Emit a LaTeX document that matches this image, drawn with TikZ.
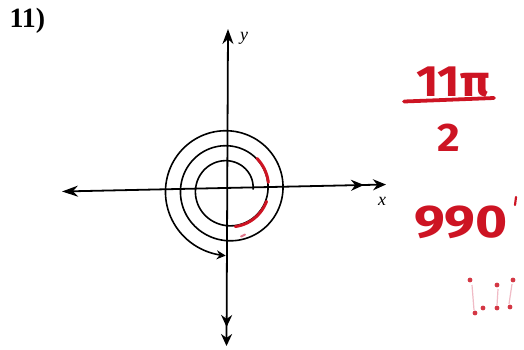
\documentclass[tikz,border=0pt]{standalone}
\usepackage{fontspec}
\setmainfont{Liberation Serif}
\newfontfamily\handfont{Fira Sans}
\usetikzlibrary{arrows.meta}
\definecolor{inkred}{RGB}{205,20,35}
\definecolor{pinkred}{RGB}{225,120,140}
\tikzset{
  axisline/.style={line width=1.8pt,black},
  spiralline/.style={line width=1.6pt,black},
  redmark/.style={line width=3pt,inkred,line cap=round},
  handtext/.style={inkred,font=\handfont\bfseries\fontsize{44}{44}\selectfont},
}
\begin{document}
\begin{tikzpicture}[x=1bp,y=-1bp]
\useasboundingbox (0,0) rectangle (524,349);
\fill[white] (0,0) rectangle (524,349);
% problem number
\node[anchor=west,font=\fontsize{28}{28}\selectfont\bfseries] (num) at (6,21) {11)};
% axes
\coordinate (xl) at (62,191.5);
\coordinate (xr) at (386,184.5);
\coordinate (yt) at (228,29);
\coordinate (yb) at (226.5,346);
\draw[axisline,{Stealth[length=16bp,width=11bp]}-{Stealth[length=13bp,width=11bp,sep=9bp]Stealth[length=13bp,width=11bp]}] (xl) -- (xr);
\draw[axisline,{Stealth[length=15bp,width=11bp]}-{Stealth[length=12bp,width=11bp,sep=7bp]Stealth[length=12bp,width=11bp]}] (yt) -- (yb);
\node[font=\itshape\fontsize{18}{18}\selectfont] (ylab) at (244,38) {y};
\node[font=\itshape\fontsize{18}{18}\selectfont] (xlab) at (382,201) {x};
% spiral (990 degrees)
\draw[spiralline,-{Stealth[length=9bp,width=9bp]}] plot[domain=0:988,samples=300,smooth]
  ({228+(25+15*\x/360)*cos(\x)},{189.5-(25+15*\x/360)*sin(\x)});
% red tracing
\draw[redmark] plot[domain=281:343,samples=40,smooth]
  ({228+(25+15*\x/360+1)*cos(\x)},{189.5-(25+15*\x/360+1)*sin(\x)});
\draw[redmark] plot[domain=370:407,samples=30,smooth]
  ({228+(25+15*\x/360+0.5)*cos(\x)},{189.5-(25+15*\x/360+0.5)*sin(\x)});
\draw[pinkred,line width=2pt,line cap=round] (241,236.5) -- (245,234.5);
% red answer
\node[handtext,anchor=base,xscale=1.1] (num11) at (453,96) {11π};
\draw[inkred,line width=3.8pt,line cap=round] (404,101.5) -- (494,98);
\node[handtext,anchor=base,font=\handfont\bfseries\fontsize{40}{40}\selectfont,xscale=1.1] (den) at (449,151) {2};
\node[handtext,anchor=base,font=\handfont\bfseries\fontsize{46}{46}\selectfont,xscale=1.2] (deg) at (461,237) {990};
\draw[inkred,line width=2.2pt,line cap=round] (516,197) -- (515,205);
% faint dots
\foreach \a/\b in {{(472,285)}/{(474,310)},{(498,289)}/{(497,305)},{(512,284)}/{(509,304)}}
  \draw[pinkred!50,line width=1.2pt] \a -- \b;
\foreach \p in {(470,280),(497,285),(513,280),(475,313),(483,308),(497,308),(510,307)}
  \fill[inkred!85] \p circle (2.4bp);
\end{tikzpicture}
\end{document}
